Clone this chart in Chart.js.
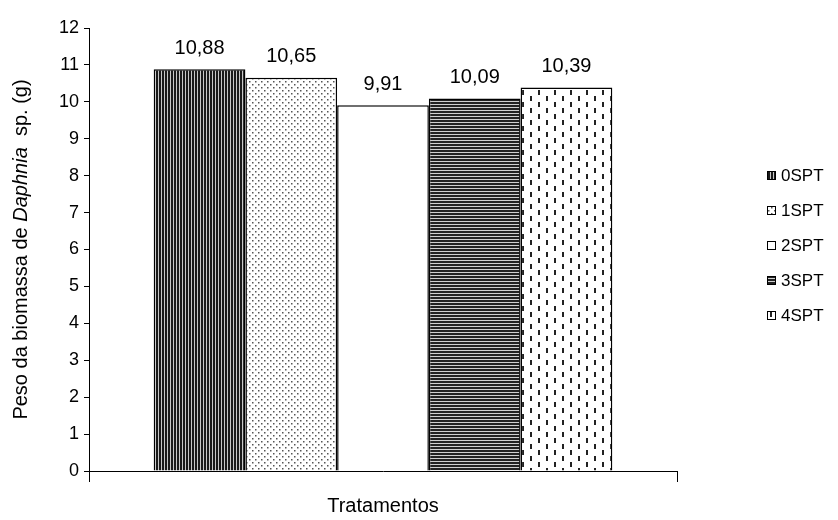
<!DOCTYPE html>
<html>
<head>
<meta charset="utf-8">
<script src="https://cdn.jsdelivr.net/npm/chart.js@4/dist/chart.umd.min.js"></script>
<style>
  html, body { margin: 0; padding: 0; background: #fff; }
  #wrap { width: 838px; height: 520px; }
</style>
</head>
<body>
<div id="wrap"><canvas id="c" width="838" height="520"></canvas></div>
<script>
// Biomass weight of Daphnia sp. per treatment
const categories = [''];
const seriesNames = ['0SPT', '1SPT', '2SPT', '3SPT', '4SPT'];
const seriesValues = [10.88, 10.65, 9.91, 10.09, 10.39];
const yTicks = [0, 1, 2, 3, 4, 5, 6, 7, 8, 9, 10, 11, 12];

const FONT = "'Liberation Sans', Arial, sans-serif";

// Fill patterns for the bars
function tile(w, h, draw) {
  const cv = document.createElement('canvas');
  cv.width = w; cv.height = h;
  const g = cv.getContext('2d');
  g.fillStyle = '#fff';
  g.fillRect(0, 0, w, h);
  draw(g);
  return document.getElementById('c').getContext('2d').createPattern(cv, 'repeat');
}
const patterns = [
  tile(3, 1, g => { g.fillStyle = '#1a1a1a'; g.fillRect(0, 0, 2, 1); g.fillStyle = '#c8c8c8'; g.fillRect(2, 0, 1, 1); }),
  tile(6, 6, g => { g.fillStyle = '#555'; g.fillRect(0, 0, 1.5, 1.5); g.fillRect(3, 3, 1.5, 1.5); }),
  '#ffffff',
  tile(1, 3, g => { g.fillStyle = '#222'; g.fillRect(0, 0, 1, 2); g.fillStyle = '#cfcfcf'; g.fillRect(0, 2, 1, 1); }),
  tile(16, 12, g => { g.fillStyle = '#222'; g.fillRect(2, 0, 2, 5); g.fillRect(10, 6, 2, 5); })
];

const datasets = seriesNames.map((name, i) => ({
  label: name,
  data: [seriesValues[i]],
  backgroundColor: patterns[i],
  borderColor: '#000',
  borderWidth: 1.5,
  borderSkipped: 'bottom',
  categoryPercentage: 0.78,
  barPercentage: 1.0
}));

const fmt = v => v.toFixed(2).replace('.', ',');

// Values written above each bar, axis titles and the side legend
const decorations = {
  id: 'decorations',
  afterDatasetsDraw(chart) {
    const ctx = chart.ctx;
    ctx.save();
    ctx.fillStyle = '#000';
    ctx.font = '20px ' + FONT;
    ctx.textAlign = 'center';
    ctx.textBaseline = 'middle';
    chart.data.datasets.forEach((ds, i) => {
      const el = chart.getDatasetMeta(i).data[0];
      ctx.fillText(fmt(ds.data[0]), el.x, el.y - 21);
    });
    ctx.restore();
  },
  afterDraw(chart) {
    const ctx = chart.ctx;
    const area = chart.chartArea;
    ctx.save();
    ctx.fillStyle = '#000';
    ctx.textBaseline = 'middle';

    // x axis title
    ctx.font = '20px ' + FONT;
    ctx.textAlign = 'center';
    ctx.fillText('Tratamentos', (area.left + area.right) / 2, 506);

    // y axis title, with the genus in italics
    const parts = [
      ['Peso da biomassa de ', 'normal'],
      ['Daphnia', 'italic'],
      ['  sp. (g)', 'normal']
    ];
    let total = 0;
    parts.forEach(p => { ctx.font = (p[1] === 'italic' ? 'italic ' : '') + '20px ' + FONT; p.push(ctx.measureText(p[0]).width); total += p[2]; });
    ctx.translate(21, (area.top + area.bottom) / 2);
    ctx.rotate(-Math.PI / 2);
    ctx.textAlign = 'left';
    let x = -total / 2;
    parts.forEach(p => {
      ctx.font = (p[1] === 'italic' ? 'italic ' : '') + '20px ' + FONT;
      ctx.fillText(p[0], x, 0);
      x += p[2];
    });
    ctx.setTransform(1, 0, 0, 1, 0, 0);

    // legend
    ctx.font = '17px ' + FONT;
    ctx.textAlign = 'left';
    chart.data.datasets.forEach((ds, i) => {
      const cy = 176 + i * 35;
      ctx.fillStyle = ds.backgroundColor;
      ctx.fillRect(767, cy - 5, 9, 9);
      ctx.strokeStyle = '#000';
      ctx.lineWidth = 1;
      ctx.strokeRect(767.5, cy - 4.5, 8, 8);
      ctx.fillStyle = '#000';
      ctx.fillText(ds.label, 781, cy);
    });
    ctx.restore();
  }
};

new Chart(document.getElementById('c'), {
  type: 'bar',
  data: { labels: categories, datasets },
  options: {
    responsive: false,
    animation: false,
    devicePixelRatio: 1,
    layout: { padding: { left: 30, right: 161, top: 28, bottom: 0 } },
    plugins: { legend: { display: false }, tooltip: { enabled: false } },
    scales: {
      x: {
        offset: true,
        grid: { display: true, offset: true, drawOnChartArea: false, drawTicks: true, tickLength: 11, color: '#000', lineWidth: 1 },
        border: { display: true, color: '#000', width: 1 },
        ticks: { display: true, font: { family: FONT, size: 18 }, color: '#000' },
        afterFit(s) { s.height = 49; }
      },
      y: {
        min: 0,
        max: 12,
        afterBuildTicks(s) { s.ticks = yTicks.map(v => ({ value: v })); },
        ticks: { stepSize: 1, padding: 5, font: { family: FONT, size: 18 }, color: '#000' },
        grid: { drawOnChartArea: false, drawTicks: true, tickLength: 5, color: '#000', lineWidth: 1 },
        border: { display: true, color: '#000', width: 1 },
        afterFit(s) { s.width = 59; }
      }
    }
  },
  plugins: [decorations]
});
</script>
</body>
</html>
